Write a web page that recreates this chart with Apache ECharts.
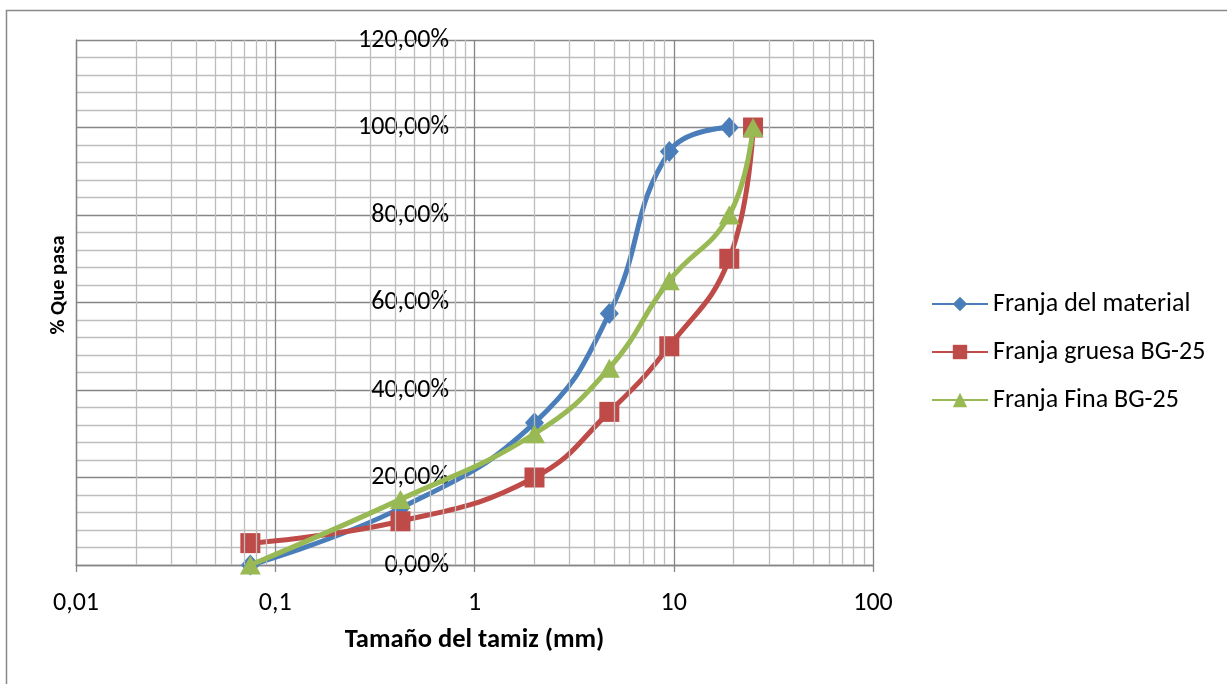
<!DOCTYPE html>
<html><head><meta charset="utf-8">
<script src="https://cdn.jsdelivr.net/npm/echarts@6/dist/echarts.min.js"></script>
<style>html,body{margin:0;padding:0;background:#fff}#c{width:1227px;height:684px}</style>
</head><body><div id="c"></div>
<script>
const sieveSizes = [0.075, 0.425, 2, 4.75, 9.5, 19, 25];
const seriesNames = ['Franja del material', 'Franja gruesa BG-25', 'Franja Fina BG-25'];
const materialPct = [0, 13, 32.5, 57.5, 94.5, 100];
const gruesaPct = [5, 10, 20, 35, 50, 70, 100];
const finaPct = [0, 15, 30, 45, 65, 80, 100];
const xMinorLines = [0.02,0.03,0.04,0.05,0.06,0.07,0.08,0.09,0.2,0.3,0.4,0.5,0.6,0.7,0.8,0.9,2,3,4,5,6,7,8,9,20,30,40,50,60,70,80,90];
const colors = ['#4a7ebb', '#be4b48', '#98b954'];
const symbols = ['diamond', 'rect', 'triangle'];

const font = 'Carlito, Lato, sans-serif';
const pairs = arr => arr.map((v, i) => [sieveSizes[i], v]);
const seriesData = [materialPct, gruesaPct, finaPct];

const chart = echarts.init(document.getElementById('c'));
const series = seriesNames.map((name, k) => ({
  name, type: 'line', data: pairs(seriesData[k]), smooth: 0.45,
  symbol: symbols[k], symbolSize: k === 0 ? [19, 21] : (k === 1 ? 20 : [21, 19]),
  itemStyle: { color: colors[k] },
  lineStyle: { color: colors[k], width: 5 },
  z: 3 + k
}));
series.unshift({
  type: 'line', data: [], silent: true, z: 1,
  markLine: {
    silent: true, symbol: 'none', animation: false,
    label: { show: false },
    lineStyle: { color: '#bdbdbd', width: 1.3, type: 'solid' },
    data: xMinorLines.map(v => ({ xAxis: v }))
  }
});

chart.setOption({
  animation: false,
  backgroundColor: '#fff',
  color: colors,
  grid: { left: 76, top: 40, width: 797, height: 525, containLabel: false },
  xAxis: {
    type: 'log', logBase: 10, min: 0.01, max: 100,
    name: 'Tamaño del tamiz (mm)', nameLocation: 'middle', nameGap: 62,
    nameTextStyle: { fontFamily: font, fontWeight: 'bold', fontSize: 26.5, color: '#000' },
    axisLine: { lineStyle: { color: '#868686', width: 1.3 } },
    axisTick: { show: true, length: 7, lineStyle: { color: '#868686', width: 1.3 } },
    axisLabel: { fontFamily: font, fontSize: 26, color: '#000', margin: 25,
      formatter: v => String(v).replace('.', ',') },
    splitLine: { show: true, lineStyle: { color: '#868686', width: 1.3 } }
  },
  yAxis: {
    type: 'value', min: 0, max: 120, interval: 20,
    axisLine: { show: true, lineStyle: { color: '#868686', width: 1.3 } },
    axisTick: { show: false },
    axisLabel: { fontFamily: font, fontSize: 26, color: '#000', margin: -373,
      formatter: v => v.toFixed(2).replace('.', ',') + '%' },
    splitLine: { show: true, lineStyle: { color: '#868686', width: 1.3 } },
    minorTick: { show: false, splitNumber: 5 },
    minorSplitLine: { show: true, lineStyle: { color: '#bdbdbd', width: 1.3 } }
  },
  legend: {
    orient: 'vertical', left: 926, top: 286,
    itemWidth: 56, itemHeight: 18, itemGap: 22,
    data: seriesNames,
    textStyle: { fontFamily: font, fontSize: 26, color: '#000', lineHeight: 26 }
  },
  graphic: [
    { type: 'rect', shape: { x: 6.5, y: 10.5, width: 1300, height: 800 },
      style: { fill: 'none', stroke: '#898989', lineWidth: 1.5 }, silent: true, z: -10 },
    { type: 'text', x: 59, y: 285, rotation: Math.PI / 2,
      style: { text: '% Que pasa', fontFamily: font, fontWeight: 'bold', fontSize: 20.5, fill: '#000',
        align: 'center', verticalAlign: 'middle' } }
  ],
  series
});
</script></body></html>
